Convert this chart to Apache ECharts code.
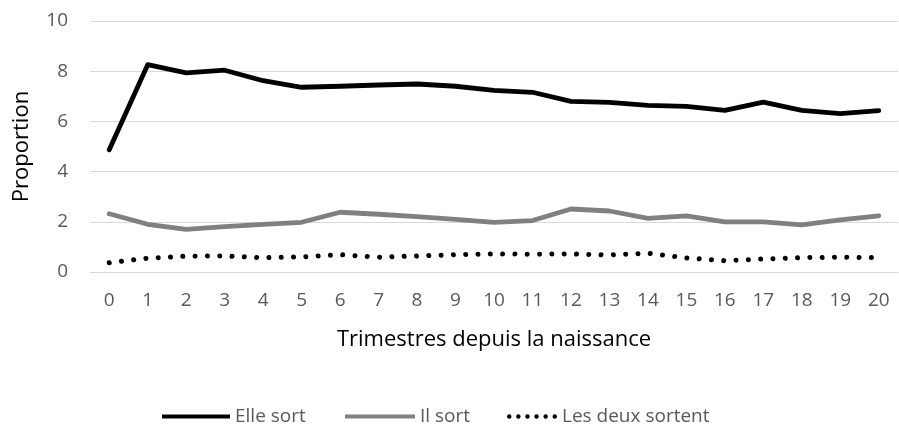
<!DOCTYPE html>
<html><head><meta charset="utf-8">
<script src="https://cdn.jsdelivr.net/npm/echarts@6/dist/echarts.min.js"></script>
<style>html,body{margin:0;padding:0;background:#fff}#c{width:899px;height:425px}</style>
</head><body><div id="c"></div>
<script>
var categories = ['0','1','2','3','4','5','6','7','8','9','10','11','12','13','14','15','16','17','18','19','20'];
var elleSort = [4.87,8.26,7.93,8.04,7.62,7.36,7.40,7.45,7.49,7.40,7.24,7.16,6.80,6.76,6.64,6.60,6.44,6.77,6.44,6.31,6.43];
var ilSort = [2.32,1.90,1.70,1.81,1.90,1.98,2.38,2.30,2.21,2.10,1.98,2.05,2.51,2.43,2.14,2.24,2.00,2.00,1.88,2.08,2.24];
var lesDeux = [0.37,0.55,0.63,0.64,0.57,0.60,0.69,0.59,0.64,0.69,0.72,0.71,0.72,0.68,0.75,0.56,0.45,0.52,0.57,0.59,0.57];
var seriesNames = ['Elle sort','Il sort','Les deux sortent'];
var yTicks = [0,2,4,6,8,10];
var FONT = '"Open Sans"';

function dotsPath(n, d, step){
  var r = d/2, p = 'path://';
  for (var k=0;k<n;k++){
    var cx = r + k*step;
    p += 'M'+(cx-r)+','+r+'a'+r+','+r+' 0 1,0 '+d+',0a'+r+','+r+' 0 1,0 '+(-d)+',0z';
  }
  return p;
}
var legendText = {color:'#595959',fontSize:19,fontFamily:FONT};
function mkLegend(name, left, w, h, icon){
  return {show:true,top:402,left:left,itemWidth:w,itemHeight:h,icon:icon,
    textStyle:legendText,data:[name],selectedMode:false};
}

var chart = echarts.init(document.getElementById('c'));
chart.setOption({
  animation:false,
  textStyle:{fontFamily:FONT},
  grid:{left:90,right:1,top:21,bottom:153,containLabel:false},
  xAxis:{type:'category',data:categories,boundaryGap:true,
    axisLine:{show:true,lineStyle:{color:'#d9d9d9',width:1}},
    axisTick:{show:false},
    axisLabel:{color:'#595959',fontSize:19,margin:19,fontFamily:FONT},
    name:'Trimestres depuis la naissance',nameLocation:'middle',nameGap:57,
    nameTextStyle:{color:'#000',fontSize:22,fontFamily:FONT}},
  yAxis:{type:'value',min:yTicks[0],max:yTicks[yTicks.length-1],interval:2,
    axisLine:{show:false},axisTick:{show:false},
    splitLine:{lineStyle:{color:'#d9d9d9',width:1}},
    axisLabel:{color:'#595959',fontSize:19,margin:22,fontFamily:FONT},
    name:'Proportion',nameLocation:'middle',nameGap:57,nameRotate:90,
    nameTextStyle:{color:'#000',fontSize:22,fontFamily:FONT}},
  legend:[
    mkLegend(seriesNames[0],157,68,4,'rect'),
    mkLegend(seriesNames[1],340,70,4,'rect'),
    mkLegend(seriesNames[2],502,50,4.5,dotsPath(6,4.5,9.1))
  ],
  series:[
    {name:seriesNames[0],type:'line',data:elleSort,symbol:'none',
      lineStyle:{color:'#000',width:4.8,cap:'round',join:'round'},itemStyle:{color:'#000'}},
    {name:seriesNames[1],type:'line',data:ilSort,symbol:'none',
      lineStyle:{color:'#808080',width:4.8,cap:'round',join:'round'},itemStyle:{color:'#808080'}},
    {name:seriesNames[2],type:'line',data:lesDeux,symbol:'none',
      lineStyle:{color:'#000',width:5,type:[0.01,12.3],cap:'round',join:'round'},itemStyle:{color:'#000'}}
  ]
});
</script></body></html>
